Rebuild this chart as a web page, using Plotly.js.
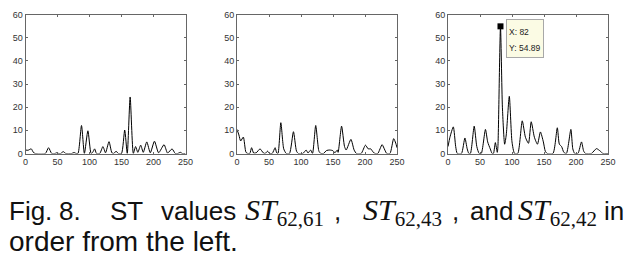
<!DOCTYPE html>
<html><head><meta charset="utf-8">
<script src="https://cdn.plot.ly/plotly-3.0.1.min.js"></script>
<style>html,body{margin:0;padding:0;background:#fff}#chart{width:636px;height:261px}</style>
</head><body><div id="chart"></div>
<script>
// ST_{62,61}
const x1 = [0,4,9,12,15,31,36,41,46,49,52,55,59,63,72,76,79,82,87.5,92,97.5,102.5,105,108,111,116,121,125,130.5,135,138,141.5,145,150,155,159,163.5,168.5,172,175.5,180,184,189.5,195,201.5,208,216.5,222,229,234,238,242,245,250];
const y1 = [1.5,1.4,2.0,0.6,0,0,2.5,0,0,0.3,0,0,0.8,0,0,0.4,0,0,12.1,0,9.8,0,0.5,2,0,0,3,0.3,5.1,0.3,0,1,0,0,10.1,0,24.4,0,3,0.5,3.6,0.5,5,0.3,5.3,0.3,3.8,0.2,2,0,0,0.5,0,0];
// ST_{62,43}
const x2 = [0,3,5.7,9.9,14,17,20,22.8,26,30,36,41,44,47.7,51,55,59.6,62,64,68.5,73,77,82,88.2,93,96,103,108,111,115,118,123,128,131,135,140,145,150,153,156.6,158,163.4,168,170.6,178,183,186.7,194,200.7,205,209,213,216,220,226.7,231,234,239,244.8,248,250];
const y2 = [10.4,8,5.4,7.1,0.5,0,0,2.5,0.2,0.3,2,0.3,0,1,0,0,2.5,0.3,0,13.3,2,0,0,9.4,1,0,0,1.5,0.2,1.5,0,12.1,1,0,0,1.3,1.5,1.2,0.3,1.5,0.5,11.8,3,1.5,6.1,1.5,0,0,3.6,2,2,0.5,0,0,3.8,1.5,0,0,6.4,4.5,2.5];
// ST_{62,42}
const x3 = [0,3,8.3,12,14.5,21,26.4,30,32.6,35,40.9,45,48.7,52,58.5,62,66,69,71,74,77,78,82,85,88.5,91,95.8,100,104,109,116,121,125.8,130,135,139.8,144.4,149,152,155,164,170.8,174,177.5,181,185,192,195,198,203,208.6,212,215,224,232,238,242,250];
const y3 = [3,7,11.5,3,0,0,6.7,2,0,0,11.8,3,0,0,10.4,5,2,0,0,4.7,0.5,3,54.89,20,4,8,24.7,5,0,0,14.1,7,4.4,13.7,7,4,9.3,5,1,0,0,11.1,4,3,0.5,0,10.4,2,0,0,5,1,0,0,2.1,1,0,0];

const xTicks = [0,50,100,150,200,250];
const yTicks = [0,10,20,30,40,50,60];
const tipX = 82, tipY = 54.89;

const W = 636, H = 261;
const yDom = [1 - 153.5 / H, 1 - 14.5 / H];
const xDoms = [[25.5 / W, 185.5 / W], [237 / W, 397 / W], [448 / W, 608 / W]];
const tickFont = {family: 'Liberation Sans, Arial, sans-serif', size: 9, color: '#333'};
function axisCommon() {
  return {showgrid: false, zeroline: false, showline: true, linecolor: '#666', linewidth: 1, mirror: 'ticks',
    ticks: 'inside', ticklen: 2, tickwidth: 1, tickcolor: '#666', tickfont: tickFont, fixedrange: true};
}
function xa(i) {
  return Object.assign(axisCommon(), {domain: xDoms[i], anchor: i ? 'y' + (i + 1) : 'y', range: [0, 250],
    tickvals: xTicks, ticktext: xTicks.map(String)});
}
function ya(i) {
  return Object.assign(axisCommon(), {domain: yDom, anchor: i ? 'x' + (i + 1) : 'x', range: [0, 60],
    tickvals: yTicks, ticktext: yTicks.map(String)});
}
const lineStyle = {color: '#000', width: 1, shape: 'spline', smoothing: 0.6};
const traces = [
  {x: x1, y: y1, xaxis: 'x', yaxis: 'y', mode: 'lines', line: lineStyle, hoverinfo: 'skip'},
  {x: x2, y: y2, xaxis: 'x2', yaxis: 'y2', mode: 'lines', line: lineStyle, hoverinfo: 'skip'},
  {x: x3, y: y3, xaxis: 'x3', yaxis: 'y3', mode: 'lines', line: lineStyle, hoverinfo: 'skip'},
  {x: [tipX], y: [tipY], xaxis: 'x3', yaxis: 'y3', mode: 'markers', marker: {symbol: 'square', size: 6, color: '#000'}, hoverinfo: 'skip', cliponaxis: false}
];

const capFont = {family: 'Liberation Sans, Arial, sans-serif', size: 26, color: '#111'};
const capFont2 = {family: 'Liberation Sans, Arial, sans-serif', size: 28, color: '#111'};
const mathFont = {family: 'Liberation Serif, serif', size: 30, color: '#111'};
// baseline-based placement: top = baseline - ascent
function cap(text, px, base, f) {
  const font = f || capFont;
  return {xref: 'paper', yref: 'paper', x: px / W, y: 1 - (base - 0.905 * font.size) / H, xanchor: 'left', yanchor: 'top',
    text: text, showarrow: false, font: font, borderpad: 0};
}
function math(text, px, base) {
  return {xref: 'paper', yref: 'paper', x: px / W, y: 1 - (base - 0.891 * mathFont.size) / H, xanchor: 'left', yanchor: 'top',
    text: text, showarrow: false, font: mathFont, borderpad: 0};
}
const tipFont = {family: 'Liberation Sans, Arial, sans-serif', size: 8.5, color: '#222'};
const b1 = 219, b2 = 250;
const annotations = [
  {xref: 'x3', yref: 'y3', x: tipX, y: tipY, xanchor: 'left', yanchor: 'top', xshift: 5.5, yshift: 7.5,
   text: '&nbsp;', width: 36, height: 37, showarrow: false, bgcolor: '#fbfbe4', bordercolor: '#a8a8a8',
   borderwidth: 1, borderpad: 0, font: tipFont},
  {xref: 'x3', yref: 'y3', x: tipX, y: tipY, xanchor: 'left', yanchor: 'middle', xshift: 7.5, yshift: -5.5,
   text: 'X: ' + tipX, showarrow: false, font: tipFont, borderpad: 0},
  {xref: 'x3', yref: 'y3', x: tipX, y: tipY, xanchor: 'left', yanchor: 'middle', xshift: 7.5, yshift: -21.5,
   text: 'Y: ' + tipY, showarrow: false, font: tipFont, borderpad: 0},
  cap('Fig.', 8, b1), cap('8.', 58, b1), cap('ST', 109, b1), cap('values', 160, b1),
  math('<i>ST</i><sub>62,61</sub>', 244, b1), cap(',', 333, b1),
  math('<i>ST</i><sub>62,43</sub>', 362, b1), cap(',', 451, b1),
  cap('and', 469, b1),
  math('<i>ST</i><sub>62,42</sub>', 517, b1),
  cap('in', 603, b1),
  cap('order from the left.', 8, b2, capFont2)
];

const layout = {
  width: W, height: H, margin: {l: 0, r: 0, t: 0, b: 0}, paper_bgcolor: '#fff', plot_bgcolor: '#fff', showlegend: false,
  xaxis: xa(0), yaxis: ya(0), xaxis2: xa(1), yaxis2: ya(1), xaxis3: xa(2), yaxis3: ya(2), annotations: annotations
};
Plotly.newPlot('chart', traces, layout, {staticPlot: true, displayModeBar: false});
</script></body></html>
